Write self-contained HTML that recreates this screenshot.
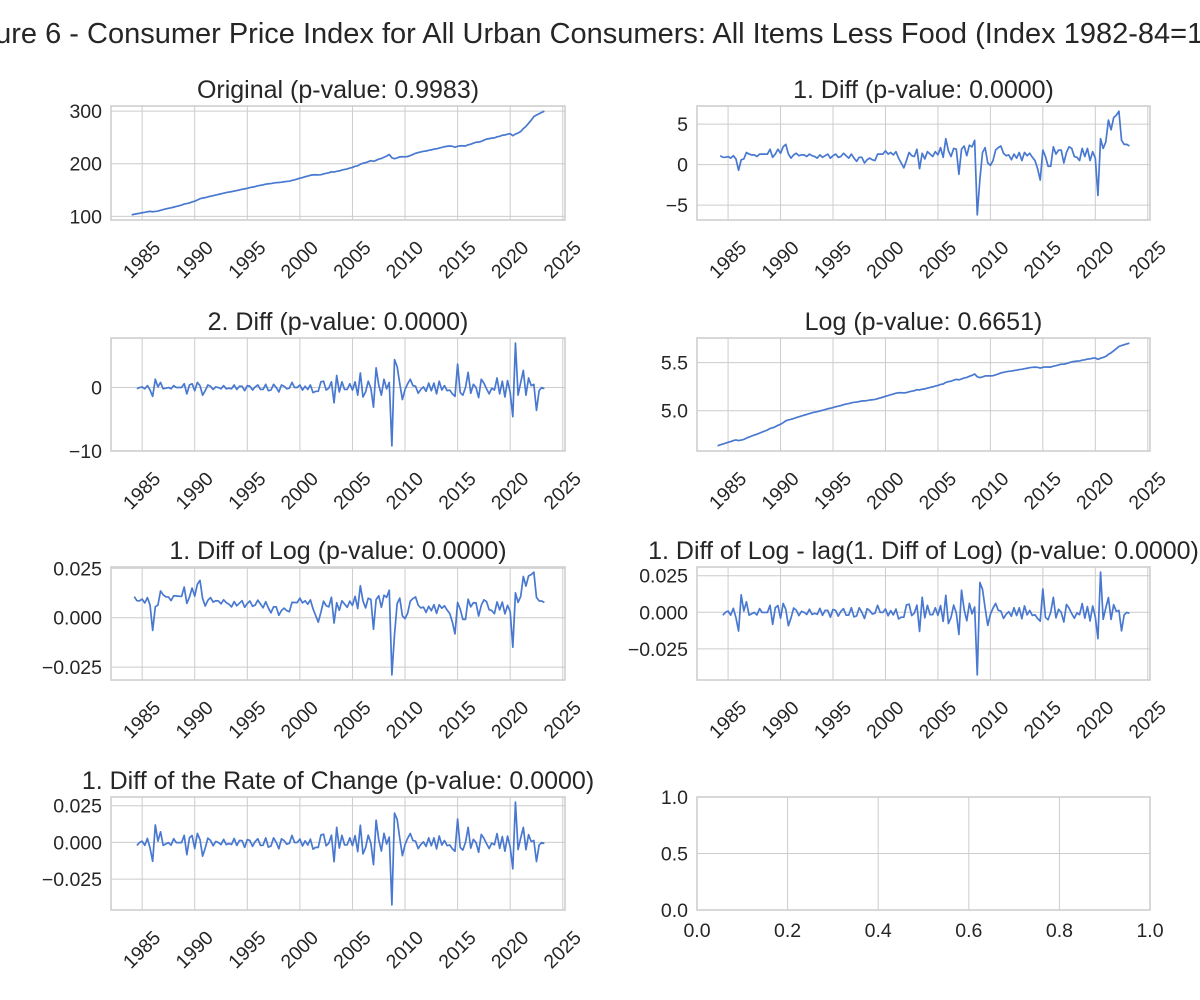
<!DOCTYPE html>
<html><head><meta charset="utf-8">
<style>
html,body{margin:0;padding:0;background:#fff;}
svg{display:block;font-family:"Liberation Sans",Arial,sans-serif;}
</style></head>
<body>
<svg id="fig" width="1200" height="1000" viewBox="0 0 1200 1000" xmlns="http://www.w3.org/2000/svg">
<rect width="1200" height="1000" fill="#fff"/>
<text x="600" y="43" text-anchor="middle" font-size="29" fill="#262626">Figure 6 - Consumer Price Index for All Urban Consumers: All Items Less Food (Index 1982-84=100)</text>
</svg>
<script>
// ---- data ----
const startYear = 1984.0;         // first quarter (1984 Q1)
const startValue = 103;           // CPI level in 1984 Q1
// quarterly first differences read from the "1. Diff" panel (1984Q2 .. 2023Q2)
const quarterlyDiffs = [
 1.1,0.9,0.9,
 1.0,0.8,1.1,0.7,
 -0.7,0.6,0.7,1.5,
 1.3,1.2,1.2,1.0,
 1.3,1.3,1.3,1.3,
 1.9,0.9,1.3,1.9,
 1.4,2.2,2.5,1.3,
 0.8,1.2,1.4,1.1,
 1.2,1.2,1.0,1.3,
 1.1,1.0,0.8,1.2,
 0.9,1.1,1.3,0.8,
 1.1,1.3,0.9,1.0,
 1.4,1.1,0.8,1.3,
 0.8,0.4,0.9,0.9,
 0.2,0.6,0.8,0.6,
 0.5,1.3,1.3,1.3,
 1.7,1.3,1.5,1.2,
 1.6,0.8,0.2,-0.4,
 0.5,1.5,1.1,1.0,
 1.9,-0.5,1.4,0.7,
 1.6,1.3,1.0,1.6,
 1.2,2.1,0.9,3.2,
 1.7,1.0,2.0,1.9,
 -1.2,1.9,2.3,1.1,
 2.4,2.2,3.0,-6.2,
 -1.8,1.5,2.1,0.2,
 -0.1,0.5,1.8,2.1,
 2.3,1.4,1.1,1.2,
 0.6,1.3,0.8,1.5,
 0.5,1.5,1.1,1.4,
 0.9,0.5,-0.5,-1.9,
 1.8,1.0,-0.2,-0.2,
 2.2,1.3,1.8,1.8,
 0.2,1.5,2.2,2.0,
 1.0,0.9,0.5,2.0,
 1.0,2.0,0.5,1.6,
 0.8,-3.8,3.2,2.0,
 2.8,5.5,4.3,5.8,
 6.1,6.6,3.0,2.5,
 2.5,2.3
];
const xTickLabels = [1985,1990,1995,2000,2005,2010,2015,2020,2025];
const ticksOriginal = [100,200,300];
const ticksDiff = [-5,0,5];
const ticksDiff2 = [-10,0];
const ticksLog = [5.0,5.5];
const ticksSmall = [-0.025,0,0.025];
const ticksEmpty = [0,0.5,1.0];
const titles = ["Original (p-value: 0.9983)","1. Diff (p-value: 0.0000)","2. Diff (p-value: 0.0000)","Log (p-value: 0.6651)","1. Diff of Log (p-value: 0.0000)","1. Diff of Log - lag(1. Diff of Log) (p-value: 0.0000)","1. Diff of the Rate of Change (p-value: 0.0000)"];

// ---- derived series ----
const level=[startValue];
quarterlyDiffs.forEach(d=>level.push(level[level.length-1]+d));
const times=level.map((_,i)=>startYear+i*0.25);
function diff(arr,t){const v=[],tt=[];for(let i=1;i<arr.length;i++){v.push(arr[i]-arr[i-1]);tt.push(t[i]);}return [v,tt];}
const [d1,t1]=diff(level,times);
const [d2,t2]=diff(d1,t1);
const logv=level.map(Math.log);
const [dl,tl]=diff(logv,times);
const [dl2,tl2]=diff(dl,tl);
const pct=[],tp=[];for(let i=1;i<level.length;i++){pct.push(level[i]/level[i-1]-1);tp.push(times[i]);}
const [dp,tdp]=diff(pct,tp);

// ---- layout ----
const NS="http://www.w3.org/2000/svg";
const svg=document.getElementById('fig');
const cols=[{l:111,r:565},{l:697,r:1150}];
const rows=[{t:106,b:220},{t:338,b:451},{t:567,b:680},{t:797,b:910}];
const TF=19.5, TT=25;
function mk(tag,attrs,parent){const e=document.createElementNS(NS,tag);for(const k in attrs)e.setAttribute(k,attrs[k]);(parent||svg).appendChild(e);return e;}
const xmin=startYear, xmax=times[times.length-1];
const xm=(xmax-xmin)*0.05, xlo=xmin-xm, xhi=xmax+xm;

function panel(ci,ri,name,title,t,v,yt,fmt,fixed){
  const c=cols[ci],r=rows[ri];
  const g=mk('g',{});
  
  
  let ylo,yhi;
  if(fixed){ylo=fixed[0];yhi=fixed[1];}
  else{const mn=Math.min(...v),mx=Math.max(...v),m=(mx-mn)*0.05;ylo=mn-m;yhi=mx+m;}
  const X=x=>c.l+(x-xlo)/(xhi-xlo)*(c.r-c.l);
  const Y=y=>r.b-(y-ylo)/(yhi-ylo)*(r.b-r.t);
  const xlab = fixed ? [0,0.2,0.4,0.6,0.8,1.0] : xTickLabels;
  const XX = fixed ? (x=>c.l+x*(c.r-c.l)) : X;
  xlab.forEach(tk=>{
    const px=XX(tk);
    const gl=mk('line',{x1:px,x2:px,y1:r.t,y2:r.b,stroke:'#cccccc','stroke-width':1},g);
    
    
    let tx;
    if(fixed){tx=mk('text',{x:px,y:r.b+27,'text-anchor':'middle','font-size':TF,fill:'#262626'},g);tx.textContent=tk.toFixed(1);}
    else{tx=mk('text',{x:px,y:r.b+40,'text-anchor':'middle','dominant-baseline':'central','font-size':TF,fill:'#262626',transform:`rotate(-45 ${px} ${r.b+40})`},g);tx.textContent=tk;}
    
    
  });
  yt.forEach(tk=>{
    const py=Y(tk);
    const gl=mk('line',{x1:c.l,x2:c.r,y1:py,y2:py,stroke:'#cccccc','stroke-width':1},g);
    
    
    const tx=mk('text',{x:c.l-9,y:py+7,'text-anchor':'end','font-size':TF,fill:'#262626'},g);
    tx.textContent=fmt(tk);
    
    
  });
  const fr=mk('rect',{x:c.l,y:r.t,width:c.r-c.l,height:r.b-r.t,fill:'none',stroke:'#cccccc','stroke-width':1.5},g);
  
  
  if(v){
    const d=v.map((y,i)=>(i?'L':'M')+X(t[i]).toFixed(2)+','+Y(y).toFixed(2)).join('');
    const p=mk('path',{d:d,fill:'none',stroke:'#4878d0','stroke-width':1.7,'stroke-linejoin':'round'},g);
    
    
  }
  if(title){
    const tt=mk('text',{x:(c.l+c.r)/2,y:r.t-8,'text-anchor':'middle','font-size':TT,fill:'#262626'},g);
    tt.textContent=title;
    
    
  }
}
const f0=x=>String(x).replace('-','\u2212');
const f1=x=>x.toFixed(1).replace('-','\u2212');
const f3=x=>x.toFixed(3).replace('-','\u2212');
panel(0,0,'original',titles[0],times,level,ticksOriginal,f0);
panel(1,0,'first-diff',titles[1],t1,d1,ticksDiff,f0);
panel(0,1,'second-diff',titles[2],t2,d2,ticksDiff2,f0);
panel(1,1,'log',titles[3],times,logv,ticksLog,f1);
panel(0,2,'diff-log',titles[4],tl,dl,ticksSmall,f3);
panel(1,2,'diff-log-lag',titles[5],tl2,dl2,ticksSmall,f3);
panel(0,3,'diff-rate-of-change',titles[6],tdp,dp,ticksSmall,f3);
panel(1,3,'empty',null,null,null,ticksEmpty,f1,[0,1]);
</script>
</body></html>
